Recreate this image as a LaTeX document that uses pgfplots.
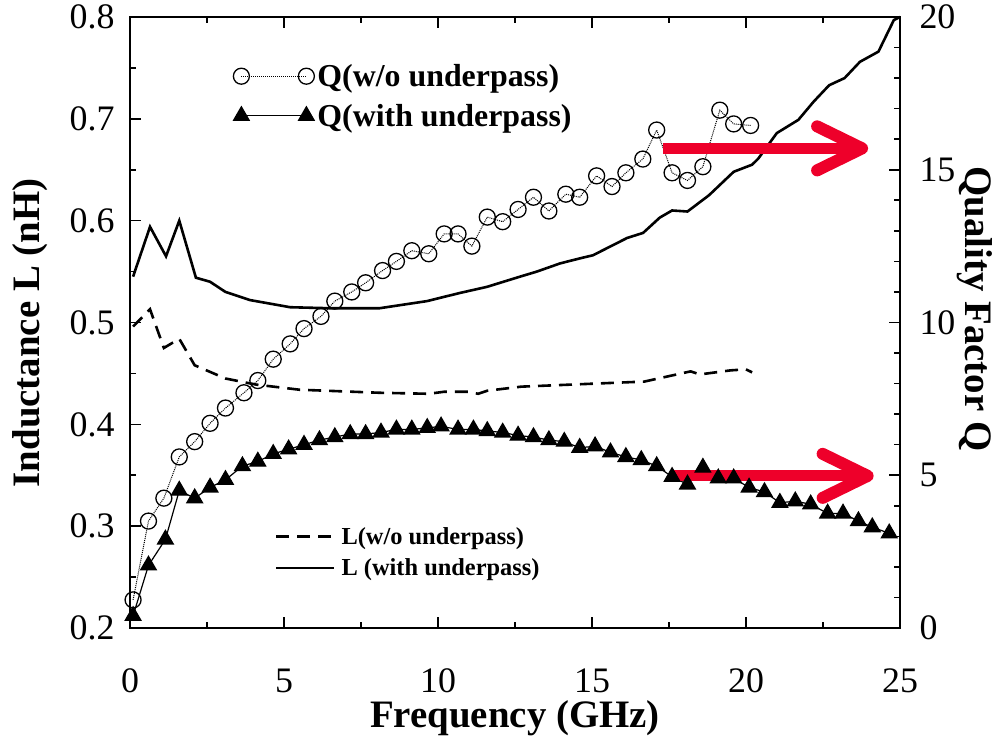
\documentclass[border=0pt]{standalone}
\usepackage{pgfplots}
\pgfplotsset{compat=1.18}
\usepackage{fontspec}
\setmainfont{Liberation Serif}
\definecolor{arrowred}{RGB}{238,0,42}

\begin{document}
\begin{tikzpicture}
\pgfplotsset{
  base/.style={
    scale only axis, width=770bp, height=611bp,
    xmin=0, xmax=25, clip=false,
    /pgf/number format/assume math mode=true,
    tick label style={font=\fontsize{36}{36}\selectfont},
    label style={font=\bfseries\fontsize{39}{39}\selectfont},
    major tick length=11bp, minor tick length=6bp,
    every tick/.style={black, line width=1.6bp},
    axis line style={line width=2.6bp},
    tick align=inside,
  }
}
% inductance (left axis)
\begin{axis}[base,
  ymin=0.2, ymax=0.8,
  xtick={0,5,10,15,20,25}, minor x tick num=1,
  ytick={0.2,0.3,0.4,0.5,0.6,0.7,0.8}, minor y tick num=1,
  ytick pos=left,
  yticklabel style={/pgf/number format/.cd, fixed, fixed zerofill, precision=1, /tikz/.cd, xshift=-12bp},
  xticklabel style={yshift=-37bp},
  xlabel={Frequency (GHz)}, ylabel={Inductance L (nH)},
  xlabel style={at={(rel axis cs:0.5,-0.148)}, anchor=center},
  ylabel style={at={(rel axis cs:-0.1299,0.483)}, anchor=center},
  legend style={at={(rel axis cs:0.188,0.168)}, anchor=north west, draw=none, fill=none,
    font=\bfseries\fontsize{24.5}{24.5}\selectfont, row sep=9bp, inner sep=0pt,
    nodes={inner xsep=6bp}},
  legend cell align=left,
  legend image code/.code={\draw[#1] (0bp,0bp) -- (58bp,0bp);},
]
\coordinate (SW) at (rel axis cs:0,0);
\addplot[black, line width=2.6bp, dash pattern=on 13bp off 8bp] coordinates {
 (0.1,0.496) (0.65,0.513) (1.1,0.475) (1.6,0.484) (2.1,0.458) (3.1,0.445)
 (4.1,0.439) (5.5,0.434) (8.1,0.431) (9.7,0.430) (10.2,0.432) (11.0,0.432)
 (11.3,0.430) (11.6,0.433) (12.7,0.437) (14.3,0.439) (15.9,0.441) (16.7,0.442)
 (17.9,0.450) (18.2,0.452) (18.5,0.449) (19.5,0.453) (20.0,0.454) (20.2,0.451)
};
\addlegendentry{L(w/o underpass)}
\addplot[black, line width=2.6bp] coordinates {
 (0.1,0.545) (0.65,0.594) (1.17,0.565) (1.6,0.600) (2.14,0.544) (2.6,0.540)
 (3.1,0.530) (3.9,0.522) (5.2,0.515) (6.5,0.514) (8.1,0.514) (9.64,0.521)
 (10.71,0.529) (11.59,0.535) (12.66,0.545) (13.21,0.550) (13.96,0.558)
 (14.61,0.563) (15.03,0.566) (16.14,0.583) (16.66,0.588) (17.2,0.603)
 (17.6,0.610) (18.1,0.609) (18.8,0.625) (19.6,0.648) (20.2,0.655) (20.4,0.661)
 (21.0,0.686) (21.7,0.699) (22.2,0.717) (22.7,0.733) (23.2,0.740) (23.7,0.756)
 (24.3,0.766) (24.8,0.797) (25.0,0.800)
};
\addlegendentry{L (with underpass)}
\end{axis}

% quality factor (right axis)
\begin{axis}[base,
  ymin=0, ymax=20,
  axis y line*=right, axis x line=none,
  ytick={0,5,10,15,20}, minor y tick num=4,
  yticklabel style={xshift=16bp},
  ylabel={Quality Factor Q},
  ylabel style={at={(rel axis cs:1.0974,0.522)}, anchor=center, rotate=180},
  legend style={at={(rel axis cs:0.134,0.926)}, anchor=north west, draw=none, fill=none,
    font=\bfseries\fontsize{32}{32}\selectfont, row sep=12bp, inner sep=0pt,
    nodes={inner xsep=3bp}},
  legend cell align=left,
  legend image code/.code={\draw[mark repeat=1,#1] plot coordinates {(0bp,0bp) (65bp,0bp)};},
]
\addplot[black, line width=1bp, densely dotted, mark=o, mark size=8bp,
  mark options={solid, line width=1.3bp}] coordinates {
 (0.1,0.92) (0.6,3.5) (1.1,4.25) (1.6,5.6) (2.1,6.1) (2.6,6.7) (3.1,7.2)
 (3.7,7.7) (4.15,8.1) (4.65,8.8) (5.2,9.3) (5.65,9.8) (6.2,10.2) (6.65,10.7)
 (7.2,11.0) (7.65,11.3) (8.2,11.7) (8.65,12.0) (9.15,12.35) (9.7,12.25)
 (10.2,12.9) (10.65,12.9) (11.1,12.5) (11.6,13.45) (12.1,13.3) (12.6,13.7)
 (13.1,14.1) (13.6,13.65) (14.15,14.2) (14.6,14.1) (15.15,14.8) (15.65,14.45)
 (16.1,14.9) (16.65,15.35) (17.1,16.3) (17.6,14.9) (18.1,14.65) (18.6,15.1)
 (19.15,16.95) (19.6,16.5) (20.15,16.45)
};
\addlegendentry{Q(w/o underpass)}
\addplot[black, line width=1.2bp, mark=triangle*, mark size=9bp,
  mark options={solid}] coordinates {
 (0.1,0.4) (0.6,2.05) (1.15,2.9) (1.6,4.5) (2.1,4.25) (2.6,4.6) (3.1,4.85)
 (3.65,5.3) (4.15,5.45) (4.65,5.7) (5.15,5.85) (5.65,6.0) (6.15,6.15)
 (6.65,6.25) (7.15,6.35) (7.65,6.35) (8.15,6.4) (8.65,6.5) (9.15,6.5)
 (9.65,6.55) (10.1,6.6) (10.65,6.5) (11.15,6.5) (11.6,6.45) (12.1,6.4)
 (12.6,6.3) (13.1,6.25) (13.6,6.15) (14.1,6.1) (14.6,5.9) (15.1,5.95)
 (15.6,5.75) (16.1,5.6) (16.6,5.5) (17.1,5.3) (17.6,4.95) (18.1,4.7)
 (18.6,5.25) (19.1,4.9) (19.6,4.9) (20.1,4.6) (20.6,4.45) (21.1,4.1)
 (21.6,4.15) (22.1,4.05) (22.65,3.75) (23.15,3.75) (23.65,3.5) (24.1,3.3)
 (24.65,3.1)
};
\addlegendentry{Q(with underpass)}
% red arrows pointing to the right axis
\draw[arrowred, line width=11bp] (axis cs:17.3,15.7) -- (axis cs:23.6,15.7);
\draw[arrowred, line width=12bp, line cap=round, line join=round]
  (axis cs:23.77,15.7) ++(-45bp,22bp) -- ++(45bp,-22bp) -- ++(-45bp,-22bp);
\draw[arrowred, line width=11bp] (axis cs:17.6,4.98) -- (axis cs:23.8,4.98);
\draw[arrowred, line width=12bp, line cap=round, line join=round]
  (axis cs:23.95,4.98) ++(-45bp,22bp) -- ++(45bp,-22bp) -- ++(-45bp,-22bp);
\end{axis}
\pgfresetboundingbox
\path (SW) ++(-130bp,-108bp) rectangle ++(1006bp,736bp);
\end{tikzpicture}
\end{document}
